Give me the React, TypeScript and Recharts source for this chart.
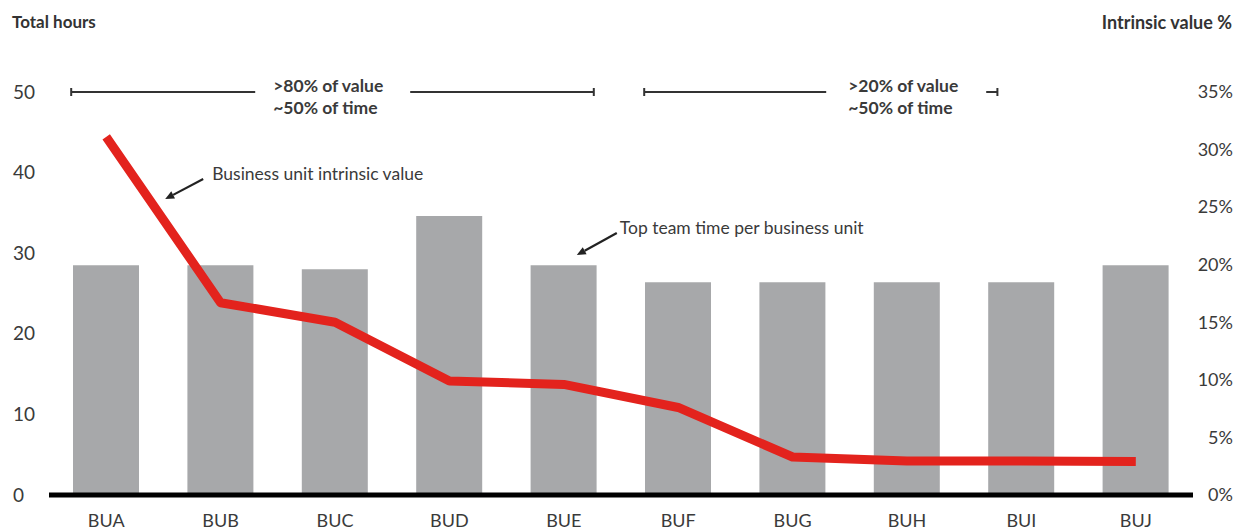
import React from "react";
import {
  ComposedChart,
  Bar,
  Line,
  XAxis,
  YAxis,
  ReferenceLine,
  ReferenceDot,
} from "recharts";

const units = ["BUA", "BUB", "BUC", "BUD", "BUE", "BUF", "BUG", "BUH", "BUI", "BUJ"];
const hours = [28.5, 28.5, 28, 34.6, 28.5, 26.4, 26.4, 26.4, 26.4, 28.5];
const intrinsicValue = [31.1, 16.7, 15.0, 9.9, 9.6, 7.6, 3.3, 2.95, 2.95, 2.9];
const leftTicks = [0, 10, 20, 30, 40, 50];
const rightTicks = [0, 5, 10, 15, 20, 25, 30, 35];

const data = units.map((bu, i) => ({ bu, hours: hours[i], value: intrinsicValue[i] }));

const FONT = "Lato, 'Open Sans', sans-serif";
const TEXT = "#3a3a3a";

const LeftTick = (props: any) => {
  const { y, payload } = props;
  return (
    <text x={13} y={y} dy="0.35em" textAnchor="start" fill={TEXT} fontSize={19} fontFamily={FONT}>
      {payload.value}
    </text>
  );
};

const RightTick = (props: any) => {
  const { y, payload } = props;
  return (
    <text x={1233} y={y} dy="0.35em" textAnchor="end" fill={TEXT} fontSize={18} fontFamily={FONT}>
      {payload.value}%
    </text>
  );
};

const XTick = (props: any) => {
  const { x, payload } = props;
  return (
    <text x={x} y={521} dy="0.35em" textAnchor="middle" fill={TEXT} fontSize={18} fontFamily={FONT}>
      {payload.value}
    </text>
  );
};

const drawArrow = (x1: number, y1: number, x2: number, y2: number) => {
  const dx = x2 - x1;
  const dy = y2 - y1;
  const len = Math.sqrt(dx * dx + dy * dy) || 1;
  const ux = dx / len;
  const uy = dy / len;
  const hl = 9;
  const hw = 4;
  const bx = x2 - ux * hl;
  const by = y2 - uy * hl;
  return (
    <g>
      <line x1={x1} y1={y1} x2={bx} y2={by} stroke="#222" strokeWidth={2.2} />
      <polygon
        points={`${x2},${y2} ${bx - uy * hw},${by + ux * hw} ${bx + uy * hw},${by - ux * hw}`}
        fill="#222"
      />
    </g>
  );
};

// bracket drawn between two category centres, with offsets in px
const bracketShape =
  (startOff: number, gapStart: number, gapEnd: number, endOff: number, l1: string, l2: string, textOff: number) =>
  (props: any) => {
    const { x1, x2, y1 } = props;
    const a = x1 + startOff;
    const b = x2 + endOff;
    const y = y1;
    const s = "#333";
    return (
      <g>
        <line x1={a} y1={y} x2={x1 + gapStart} y2={y} stroke={s} strokeWidth={2} />
        <line x1={x1 + gapEnd} y1={y} x2={b} y2={y} stroke={s} strokeWidth={2} />
        <line x1={a} y1={y - 4} x2={a} y2={y + 4} stroke={s} strokeWidth={2} />
        <line x1={b} y1={y - 4} x2={b} y2={y + 4} stroke={s} strokeWidth={2} />
        <text fill={TEXT} fontSize={17.5} fontWeight={700} fontFamily={FONT}>
          <tspan x={x1 + textOff} y={y + 0}>{l1}</tspan>
          <tspan x={x1 + textOff} y={y + 22}>{l2}</tspan>
        </text>
      </g>
    );
  };

const calloutShape =
  (tailDx: number, tipDx: number, tipDy: number, textDx: number, label: string) => (props: any) => {
    const { cx, cy } = props;
    return (
      <g>
        {drawArrow(cx + tailDx, cy, cx + tipDx, cy + tipDy)}
        <text x={cx + textDx} y={cy + 1} fill={TEXT} fontSize={17.5} fontFamily={FONT}>
          {label}
        </text>
      </g>
    );
  };

export default function App() {
  return (
    <div style={{ position: "absolute", left: 0, top: 0, width: 1237, height: 531, background: "#fff" }}>
      <div
        style={{
          position: "absolute",
          left: 12,
          top: 11,
          fontFamily: FONT,
          fontWeight: 700,
          fontSize: 17,
          color: "#333",
        }}
      >
        Total hours
      </div>
      <div
        style={{
          position: "absolute",
          right: 5,
          top: 11,
          fontFamily: FONT,
          fontWeight: 700,
          fontSize: 18,
          color: "#333",
        }}
      >
        Intrinsic value %
      </div>
      <ComposedChart
        width={1237}
        height={531}
        data={data}
        margin={{ top: 92, right: 0, bottom: 6, left: 0 }}
      >
        <XAxis
          dataKey="bu"
          axisLine={{ stroke: "#000", strokeWidth: 5 }}
          tickLine={false}
          tick={<XTick />}
          height={30}
          interval={0}
        />
        <YAxis
          yAxisId="left"
          domain={[0, 50]}
          ticks={leftTicks}
          axisLine={false}
          tickLine={false}
          width={49}
          tick={<LeftTick />}
          interval={0}
        />
        <YAxis
          yAxisId="right"
          orientation="right"
          domain={[0, 35]}
          ticks={rightTicks}
          axisLine={false}
          tickLine={false}
          width={44}
          tick={<RightTick />}
          interval={0}
        />
        <Bar dataKey="hours" yAxisId="left" fill="#a7a8aa" barSize={66} isAnimationActive={false} />
        <Line
          dataKey="value"
          yAxisId="right"
          stroke="#e3231d"
          strokeWidth={9}
          dot={false}
          activeDot={false}
          strokeLinejoin="round"
          isAnimationActive={false}
        />

        <ReferenceLine
          yAxisId="left"
          segment={[{ x: "BUA", y: 50 }, { x: "BUE", y: 50 }]}
          ifOverflow="visible"
          shape={bracketShape(-35, 149, 304, 30, ">80% of value", "~50% of time", 167)}
        />
        <ReferenceLine
          yAxisId="left"
          segment={[{ x: "BUF", y: 50 }, { x: "BUI", y: 50 }]}
          ifOverflow="visible"
          shape={bracketShape(-34, 148, 308, -24, ">20% of value", "~50% of time", 170)}
        />

        <ReferenceDot
          yAxisId="left"
          x="BUA"
          y={39.2}
          ifOverflow="visible"
          shape={calloutShape(97, 59, 20, 106, "Business unit intrinsic value")}
        />
        <ReferenceDot
          yAxisId="left"
          x="BUE"
          y={32.5}
          ifOverflow="visible"
          shape={calloutShape(53, 13, 22, 56, "Top team time per business unit")}
        />
      </ComposedChart>
    </div>
  );
}
